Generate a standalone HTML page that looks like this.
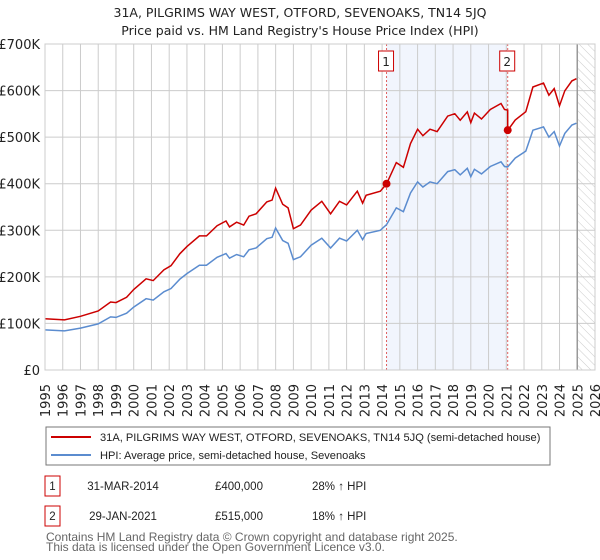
<!DOCTYPE html>
<html><head><meta charset="utf-8"><style>
body{margin:0;background:#fff;font-family:"Liberation Sans","DejaVu Sans",sans-serif;}
svg{display:block}
</style></head><body>
<svg width="600" height="560" xmlns="http://www.w3.org/2000/svg" font-family="DejaVu Sans, Liberation Sans, sans-serif">
<g id="root"></g>
</svg>
<script>
const hpiYears=[1995,1996.1,1997,1998,1998.7,1999,1999.6,2000,2000.7,2001.1,2001.7,2002.1,2002.6,2003,2003.7,2004.1,2004.7,2005.2,2005.4,2005.8,2006.2,2006.5,2006.9,2007.5,2007.8,2008,2008.4,2008.7,2009,2009.4,2010,2010.6,2011.1,2011.6,2012,2012.6,2012.9,2013.1,2013.9,2014.25,2014.8,2015.2,2015.6,2016,2016.3,2016.7,2017.1,2017.7,2018.1,2018.4,2018.8,2019,2019.2,2019.6,2020.1,2020.7,2020.9,2021.08,2021.5,2022.1,2022.5,2023.1,2023.4,2023.7,2024,2024.3,2024.7,2024.95];
const hpiValues=[86,84,90,99,114,113,122,135,153,150,168,175,195,207,225,225,242,250,240,248,243,258,262,282,285,305,278,272,237,243,268,283,262,283,277,300,280,293,300,312,348,340,380,404,393,404,400,426,430,419,433,415,431,421,437,447,437,436,455,470,515,522,500,512,481,508,526,530];
const saleYears=[2014.25,2021.08];
const salePrices=[400,515];
const saleLabels=["1","2"];
const saleRatios=[1.28,1.18];
const yTicks=[0,100,200,300,400,500,600,700];
const yTickLabels=["£0","£100K","£200K","£300K","£400K","£500K","£600K","£700K"];
const xTicks=[];for(let y=1995;y<=2026;y++)xTicks.push(y);

const NS="http://www.w3.org/2000/svg";
const root=document.getElementById('root');
const L=45,R=595,T=44,B=370;
const x=v=>L+(v-1995)/31*(R-L);
const y=v=>B-v/700*(B-T);
function el(tag,attrs,parent){const e=document.createElementNS(NS,tag);for(const k in attrs)e.setAttribute(k,attrs[k]);(parent||root).appendChild(e);return e;}
function txt(s,attrs){const e=el('text',attrs);e.textContent=s;return e;}
const LIB='Liberation Sans, sans-serif';

let t=txt("31A, PILGRIMS WAY WEST, OTFORD, SEVENOAKS, TN14 5JQ",{x:300,y:17,'text-anchor':'middle','font-size':12.5,fill:'#222'});


t=txt("Price paid vs. HM Land Registry's House Price Index (HPI)",{x:300,y:35,'text-anchor':'middle','font-size':12.5,fill:'#222'});



let sh=el('rect',{x:x(saleYears[0]),y:T,width:x(saleYears[1])-x(saleYears[0]),height:B-T,fill:'#eef3fc',opacity:0.8});


const defs=el('defs',{});
const pat=el('pattern',{id:'h',width:6,height:6,patternUnits:'userSpaceOnUse',patternTransform:'rotate(-45)'},defs);
el('line',{x1:0,y1:0,x2:0,y2:6,stroke:'#ccc','stroke-width':1},pat);
let hz=el('rect',{x:x(2025),y:T,width:R-x(2025),height:B-T,fill:'url(#h)'});



yTicks.forEach((v,i)=>{
  const g=el('line',{x1:L,x2:R,y1:y(v),y2:y(v),stroke:'#ccc','stroke-width':1});
  
  
  const lb=txt(yTickLabels[i],{x:L-5,y:y(v)+5,'text-anchor':'end','font-size':13,fill:'#222'});
  
  
});
xTicks.forEach(v=>{
  const g=el('line',{x1:x(v),x2:x(v),y1:T,y2:B,stroke:'#ccc','stroke-width':1});
  
  
  const lb=txt(String(v),{x:0,y:0,'text-anchor':'end','font-size':13,fill:'#222',transform:`translate(${x(v)+5},${384}) rotate(-90)`});
  
  
});
let nl=el('line',{x1:x(2025),x2:x(2025),y1:T,y2:B,stroke:'#999','stroke-width':1.5});



saleYears.forEach((s,i)=>{
  const l=el('line',{x1:x(s),x2:x(s),y1:T,y2:B,stroke:'#e06060','stroke-width':1,'stroke-dasharray':'2,2'});
  
  
});

let d=hpiYears.map((yr,i)=>(i?'L':'M')+x(yr).toFixed(1)+','+y(hpiValues[i]).toFixed(1)).join('');
let hl=el('path',{d,fill:'none',stroke:'#5b8ccf','stroke-width':1.5});


let pd='';
hpiYears.forEach((yr,i)=>{
  const r=yr<saleYears[1]?saleRatios[0]:saleRatios[1];
  if(yr===saleYears[1]) pd+='L'+x(yr).toFixed(1)+','+y(hpiValues[i]*saleRatios[0]).toFixed(1);
  pd+=(i?'L':'M')+x(yr).toFixed(1)+','+y(hpiValues[i]*r).toFixed(1);
});
let pl=el('path',{d:pd,fill:'none',stroke:'#cc0000','stroke-width':1.5});



saleYears.forEach((s,i)=>{
  const c=el('circle',{cx:x(s),cy:y(salePrices[i]),r:4,fill:'#cc0000'});
  
  
  const b=el('rect',{x:x(s)-8,y:51,width:15,height:20,fill:'#fff',stroke:'#cc0000','stroke-width':1});
  
  
  const tt=txt(saleLabels[i],{x:x(s)-0.5,y:66,'text-anchor':'middle','font-size':12,fill:'#222'});
  
  
});
let fr=el('rect',{x:L,y:T,width:R-L,height:B-T,fill:'none',stroke:'#ccc','stroke-width':1});



let lg=el('rect',{x:46,y:427,width:504,height:38,fill:'#fff',stroke:'#777','stroke-width':1});


let l1=el('line',{x1:51,x2:91,y1:437,y2:437,stroke:'#cc0000','stroke-width':2});


t=txt("31A, PILGRIMS WAY WEST, OTFORD, SEVENOAKS, TN14 5JQ (semi-detached house)",{x:100,y:441,'font-size':11.1,fill:'#222','font-family':LIB});


let l2=el('line',{x1:51,x2:91,y1:455,y2:455,stroke:'#5b8ccf','stroke-width':2});


t=txt("HPI: Average price, semi-detached house, Sevenoaks",{x:100,y:459,'font-size':11.1,fill:'#222','font-family':LIB});



const rows=[["1","31-MAR-2014","£400,000","28% ↑ HPI"],["2","29-JAN-2021","£515,000","18% ↑ HPI"]];
rows.forEach((r,i)=>{
  const cy=486+i*30;
  const b=el('rect',{x:45,y:cy-10,width:15,height:20,fill:'#fff',stroke:'#cc0000','stroke-width':1});
  
  
  let a=txt(r[0],{x:52.5,y:cy+4,'text-anchor':'middle','font-size':11.5,fill:'#222','font-family':LIB});
  
  
  a=txt(r[1],{x:123,y:cy+4,'text-anchor':'middle','font-size':11.5,fill:'#222','font-family':LIB});
  
  
  a=txt(r[2],{x:215,y:cy+4,'font-size':11.5,fill:'#222','font-family':LIB});
  
  
  a=txt(r[3],{x:312,y:cy+4,'font-size':11.5,fill:'#222','font-family':LIB});
  
  
});
t=txt("Contains HM Land Registry data © Crown copyright and database right 2025.",{x:46,y:541,'font-size':12,fill:'#666','font-family':LIB});


t=txt("This data is licensed under the Open Government Licence v3.0.",{x:46,y:551,'font-size':12,fill:'#666','font-family':LIB});


</script>
</body></html>
